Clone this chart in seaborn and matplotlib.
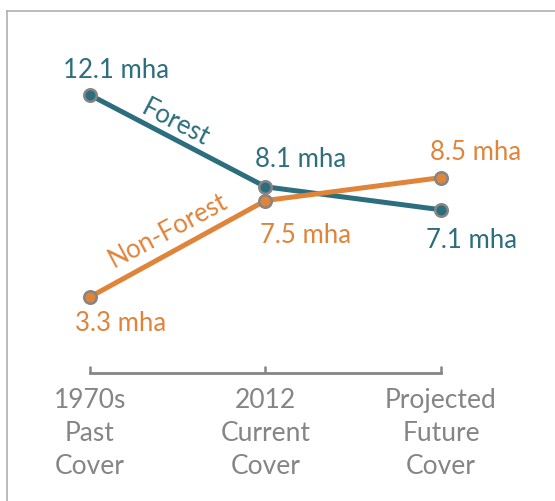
import numpy as np
import pandas as pd
from matplotlib import pyplot as plt
import seaborn as sns

periods = ["1970s\nPast\nCover", "2012\nCurrent\nCover", "Projected\nFuture\nCover"]
forest = [12.1, 8.1, 7.1]
non_forest = [3.3, 7.5, 8.5]
series = ["Forest", "Non-Forest"]

teal = "#2c6e7d"
orange = "#e0843a"
grey = "#858585"

sns.set_style("white")
plt.rcParams['font.family'] = ['Lato', 'DejaVu Sans']

df = pd.DataFrame({
    "x": list(range(3)) * 2,
    "value": forest + non_forest,
    "series": [series[0]] * 3 + [series[1]] * 3,
})

fig = plt.figure(figsize=(5.55, 5.01), dpi=100)
ax = fig.add_axes([7 / 555, 0, 1 - 7 / 555, 490 / 501])

# spine position first, it resets the ticks
ax.spines["right"].set_visible(False)
ax.spines["bottom"].set_position(("data", 0))

sns.lineplot(data=df, x="x", y="value", hue="series", palette=[teal, orange],
             linewidth=3.6, marker="o", markersize=9, markeredgecolor=grey,
             markeredgewidth=1.8, legend=False, ax=ax)

ax.set_xlim(-0.473, 2.65)
ax.set_ylim(-5.59, 15.76)

# value labels
offsets_f = [(19, 18), (25, 20), (22, -22)]
offsets_n = [(22, -19), (29, -25), (25, 18)]
for i in range(3):
    ax.annotate(f"{forest[i]} mha", (i, forest[i]), xytext=offsets_f[i],
                textcoords="offset points", ha="center", va="center",
                fontsize=18.5, color=teal)
    ax.annotate(f"{non_forest[i]} mha", (i, non_forest[i]), xytext=offsets_n[i],
                textcoords="offset points", ha="center", va="center",
                fontsize=18.5, color=orange)

# series names along the lines
ax.annotate("Forest", ((0 + 1) / 2, (forest[0] + forest[1]) / 2), xytext=(-2, 13),
            textcoords="offset points", ha="center", va="center",
            fontsize=18.5, color=teal, rotation=-27.5)
ax.annotate("Non-Forest", ((0 + 1) / 2, (non_forest[0] + non_forest[1]) / 2), xytext=(-7, 13),
            textcoords="offset points", ha="center", va="center",
            fontsize=18.5, color=orange, rotation=28)

# axis styling
ax.set_xlabel("")
ax.set_ylabel("")
ax.set_yticks([])
ax.set_xticks(range(3))
ax.set_xticklabels(periods, fontsize=19, color=grey, linespacing=1.4)
ax.tick_params(axis="x", bottom=True, direction="in", length=5, width=1.8,
               color=grey, pad=11)
ax.spines["bottom"].set_bounds(0, 2)
ax.spines["bottom"].set_color(grey)
ax.spines["bottom"].set_linewidth(2)
for s in ["left", "top"]:
    ax.spines[s].set_color("#b0b0b0")
    ax.spines[s].set_linewidth(1.2)

plt.savefig("out.png", dpi=100)
